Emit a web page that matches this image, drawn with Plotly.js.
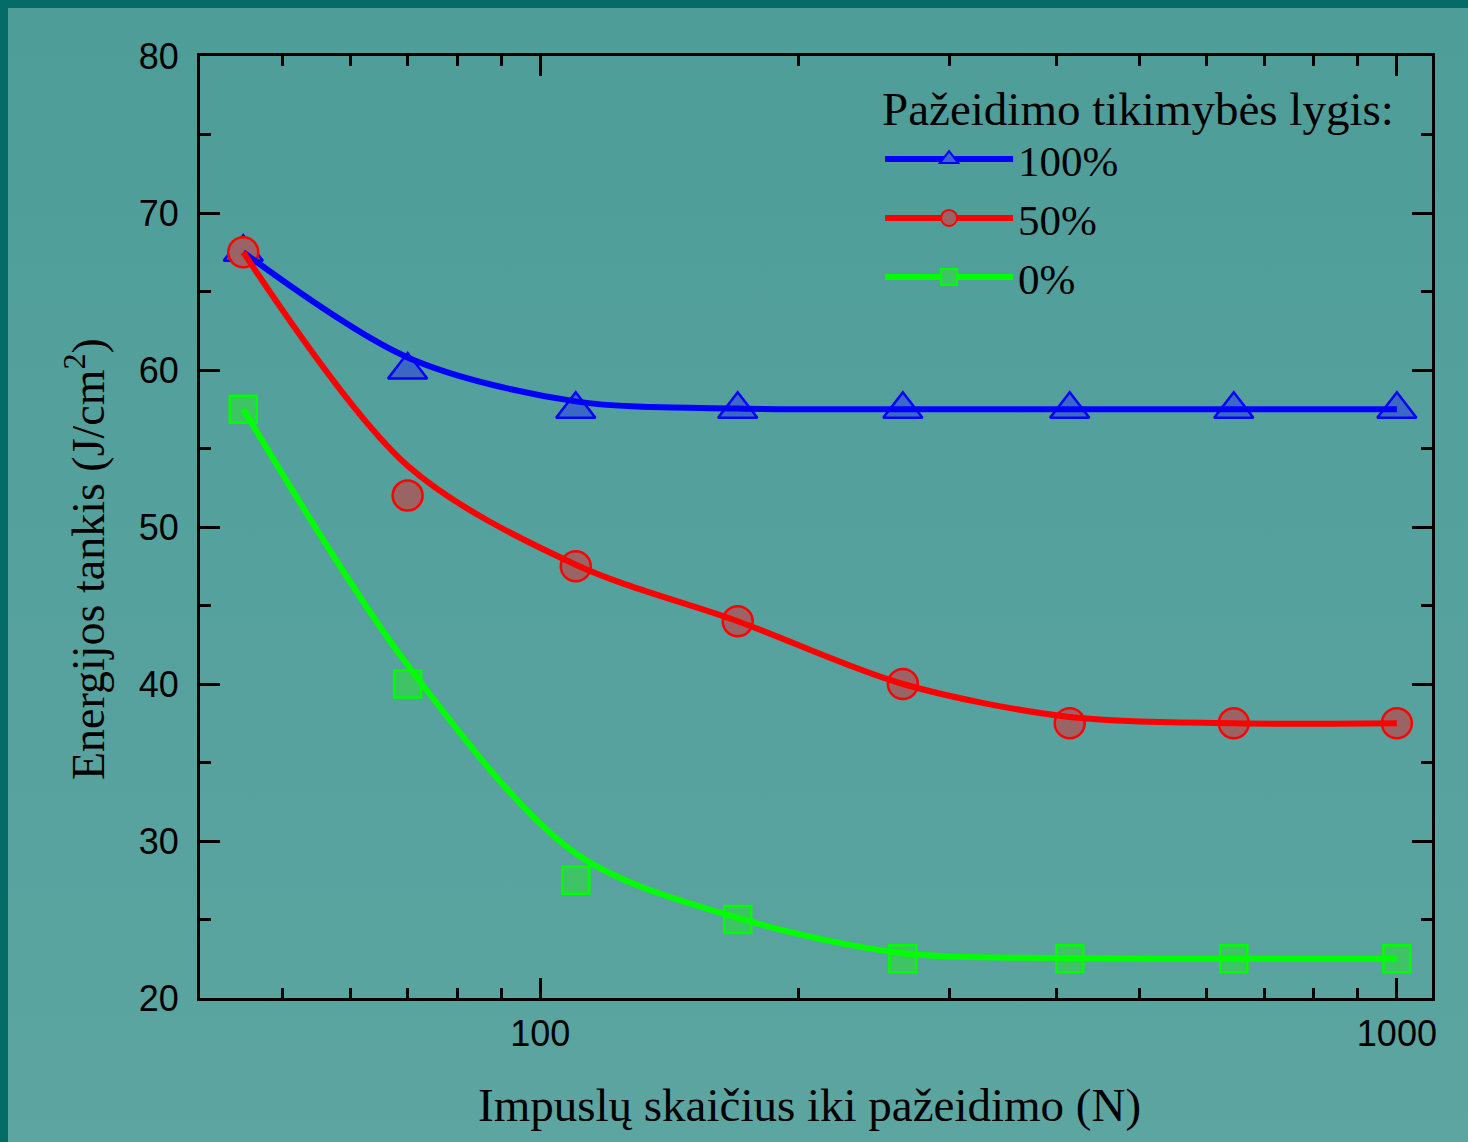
<!DOCTYPE html>
<html>
<head>
<meta charset="utf-8">
<script src="https://cdn.plot.ly/plotly-3.0.1.min.js"></script>
<style>
  html, body { margin: 0; padding: 0; width: 1468px; height: 1142px; overflow: hidden; background: #046b66; }
  #chart { position: absolute; left: 8px; top: 8px; width: 1460px; height: 1134px;
           background: linear-gradient(to bottom, #4e9d99, #5ca5a1); }
</style>
</head>
<body>
<div id="chart"></div>
<script>
// Number of pulses to damage (N)
const pulses = [45, 70, 110, 170, 265, 415, 645, 1000];

// Measured energy density points (J/cm^2)
const measured100 = [67.5, 60.0, 57.5, 57.5, 57.5, 57.5, 57.5, 57.5];
const measured50  = [67.5, 52.0, 47.5, 44.0, 40.0, 37.5, 37.5, 37.5];
const measured0   = [57.5, 40.0, 27.5, 25.0, 22.5, 22.5, 22.5, 22.5];

// Fitted curves at the same pulse counts
const fit100 = [67.5, 60.8, 58.0, 57.55, 57.5, 57.5, 57.5, 57.5];
const fit50  = [67.5, 53.9, 47.6, 44.0, 40.0, 37.9, 37.5, 37.5];
const fit0   = [57.5, 41.2, 29.2, 25.1, 22.85, 22.55, 22.5, 22.5];

const seriesNames = ['100%', '50%', '0%'];
const xTickVals = [100, 1000];
const xTickText = ['100', '1000'];
const xMinorVals = [50, 60, 70, 80, 90, 200, 300, 400, 500, 600, 700, 800, 900];

const colors = ['#0000ff', '#ff0000', '#00ff00'];
const fills = ['#3a68c4', '#9a6464', '#3ec464'];
const symbols = ['triangle-up', 'circle', 'square'];
const sizes = [34, 30, 27];
const measured = [measured100, measured50, measured0];
const fits = [fit100, fit50, fit0];

const traces = [];
// markers (drawn below the curves)
for (let i = 0; i < 3; i++) {
  traces.push({
    x: pulses, y: measured[i], type: 'scatter', mode: 'markers', showlegend: false,
    hoverinfo: 'skip',
    marker: { symbol: symbols[i], size: sizes[i], color: fills[i], line: { color: colors[i], width: 2.5 } }
  });
}
// fitted curves
for (let i = 0; i < 3; i++) {
  traces.push({
    x: pulses, y: fits[i], type: 'scatter', mode: 'lines', showlegend: false,
    line: { color: colors[i], width: 6, shape: 'spline', smoothing: 0.9 }
  });
}
// legend entries
for (let i = 0; i < 3; i++) {
  traces.push({
    x: [null], y: [null], type: 'scatter', mode: 'lines+markers', name: seriesNames[i],
    line: { color: colors[i], width: 6 },
    marker: { symbol: symbols[i], size: sizes[i], color: fills[i], line: { color: colors[i], width: 2 } }
  });
}

const tickFont = { family: 'Liberation Sans, Arial, sans-serif', size: 36, color: '#000' };
const serif = 'Liberation Serif, Times New Roman, serif';

const layout = {
  width: 1460, height: 1134,
  margin: { l: 192, r: 36, t: 48, b: 144 },
  paper_bgcolor: 'rgba(0,0,0,0)',
  plot_bgcolor: 'rgba(0,0,0,0)',
  showlegend: true,
  xaxis: {
    type: 'log', range: [Math.log10(40.06), Math.log10(1099)],
    tickmode: 'array', tickvals: xTickVals, ticktext: xTickText,
    ticks: 'inside', ticklen: 20, tickwidth: 3, tickcolor: '#000',
    showline: true, linewidth: 3, linecolor: '#000', mirror: 'allticks',
    showgrid: false, zeroline: false, tickfont: tickFont, ticklabelstandoff: 2,
    minor: { tickmode: 'array', tickvals: xMinorVals, ticks: 'inside', ticklen: 10, tickwidth: 3, tickcolor: '#000', showgrid: false }
  },
  yaxis: {
    range: [20, 80], tick0: 0, dtick: 10,
    ticks: 'inside', ticklen: 20, tickwidth: 3, tickcolor: '#000',
    showline: true, linewidth: 3, linecolor: '#000', mirror: 'allticks',
    showgrid: false, zeroline: false, tickfont: tickFont, ticklabelstandoff: 11,
    minor: { dtick: 5, ticks: 'inside', ticklen: 11, tickwidth: 3, tickcolor: '#000', showgrid: false }
  },
  legend: {
    x: 0.552, y: 0.992, xanchor: 'left', yanchor: 'top',
    bgcolor: 'rgba(0,0,0,0)', borderwidth: 0,
    font: { family: serif, size: 43, color: '#000' },
    title: { text: 'Pažeidimo tikimybės lygis:', font: { family: serif, size: 47, color: '#000' } },
    itemwidth: 128, tracegroupgap: 0
  },
  annotations: [
    { text: 'Impuslų skaičius iki pažeidimo (N)', xref: 'paper', yref: 'paper', x: 0.495, y: -0.1136,
      xanchor: 'center', yanchor: 'middle', showarrow: false, font: { family: serif, size: 47, color: '#000' } },
    { text: 'Energijos tankis (J/cm<sup>2</sup>)', xref: 'paper', yref: 'paper', x: 0, xshift: -115, y: 0.466,
      xanchor: 'center', yanchor: 'middle', textangle: -90, showarrow: false, font: { family: serif, size: 46, color: '#000' } }
  ]
};

Plotly.newPlot('chart', traces, layout, { displayModeBar: false, staticPlot: true });
</script>
</body>
</html>
